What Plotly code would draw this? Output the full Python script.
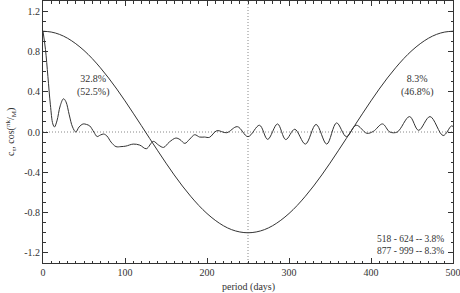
import plotly.graph_objects as go

# smooth curve cos(pi k / M), read every 10 days
cos_period = list(range(0, 501, 10))
cos_values = [1.0, 0.992, 0.969, 0.930, 0.876, 0.809, 0.729, 0.637, 0.536, 0.426,
              0.309, 0.187, 0.063, -0.063, -0.187, -0.309, -0.426, -0.536, -0.637, -0.729,
              -0.809, -0.876, -0.930, -0.969, -0.992, -1.0, -0.992, -0.969, -0.930, -0.876,
              -0.809, -0.729, -0.637, -0.536, -0.426, -0.309, -0.187, -0.063, 0.063, 0.187,
              0.309, 0.426, 0.536, 0.637, 0.729, 0.809, 0.876, 0.930, 0.969, 0.992, 1.0]

# wiggly correlation curve c_tau
c_period = [0, 3, 6, 9, 12, 14, 17, 21, 25, 28, 32, 36, 40, 44, 49, 53, 57, 62, 66, 70,
            74, 78, 83, 89, 95, 101, 110, 118, 126, 134.5, 141, 147, 154, 162, 167, 173, 179, 185,
            191, 197, 203, 212, 224, 237, 250, 264, 274, 286, 296, 307, 320, 333, 346, 358,
            370, 382, 395, 403, 414, 423, 432, 447, 458, 472, 488, 498, 500]
c_values = [1.0, 0.82, 0.55, 0.27, 0.08, 0.05, 0.11, 0.26, 0.33, 0.30, 0.17, 0.05, 0.0, 0.05,
            0.08, 0.075, 0.06, 0.0, -0.045, -0.03, -0.02, -0.04, -0.10, -0.145, -0.145, -0.14,
            -0.12, -0.13, -0.166, -0.093, -0.13, -0.153, -0.10, -0.06, -0.075, -0.113, -0.07, -0.027,
            -0.05, -0.05, -0.053, 0.013, -0.007, 0.053, -0.046, 0.067, -0.073, 0.08, -0.075, 0.027,
            -0.12, 0.075, -0.12, 0.09, -0.046, 0.067, -0.013, 0.007, 0.08, 0.0, 0.0, 0.153,
            0.017, 0.153, -0.035, 0.06, 0.055]

x_ticks = [0, 100, 200, 300, 400, 500]
y_ticks = [-1.2, -0.8, -0.4, 0.0, 0.4, 0.8, 1.2]
y_tick_labels = ["-1.2", "-0.8", "-0.4", "0.0", "0.4", "0.8", "1.2"]

FONT = "Liberation Serif, Times New Roman, serif"
INK = "#333333"

fig = go.Figure()
fig.add_trace(go.Scatter(x=cos_period, y=cos_values, mode="lines",
                         line=dict(color=INK, width=1, shape="spline"), hoverinfo="skip"))
fig.add_trace(go.Scatter(x=c_period, y=c_values, mode="lines",
                         line=dict(color=INK, width=1, shape="spline", smoothing=1.0), hoverinfo="skip"))

fig.add_shape(type="line", xref="x", yref="y", x0=0, x1=500, y0=0, y1=0,
              line=dict(color="#888888", width=1, dash="1px,2px"), layer="below")
fig.add_shape(type="line", xref="x", yref="y", x0=250, x1=250, y0=-1.3, y1=1.3,
              line=dict(color="#888888", width=1, dash="1px,2px"), layer="below")

fig.add_annotation(x=61, y=0.46, xref="x", yref="y", text="32.8%<br>(52.5%)",
                   showarrow=False, font=dict(family=FONT, size=10, color=INK))
fig.add_annotation(x=457, y=0.46, xref="x", yref="y", text="8.3%<br>(46.8%)",
                   showarrow=False, font=dict(family=FONT, size=10, color=INK))
fig.add_annotation(x=492, y=-1.12, xref="x", yref="y", xanchor="right",
                   text="518 - 624 -- 3.8%<br>877 - 999 -- 8.3%", align="left",
                   showarrow=False, font=dict(family=FONT, size=9.5, color=INK))

# axis titles as annotations for exact placement
fig.add_annotation(x=250, y=-1.3, xref="x", yref="y", yanchor="top", yshift=-16,
                   text="period (days)", showarrow=False,
                   font=dict(family=FONT, size=10, color=INK))
fig.add_annotation(x=0, y=0.0, xref="x", yref="y", xanchor="center", xshift=-32,
                   text="c<sub>τ</sub>, cos(<sup>πk</sup>/<sub>M</sub>)", textangle=-90,
                   showarrow=False, font=dict(family=FONT, size=10, color=INK))

axis_common = dict(showgrid=False, zeroline=False, showline=True, linecolor=INK, linewidth=1,
                   mirror="ticks", ticks="inside", ticklen=5, tickcolor=INK, automargin=False,
                   ticklabeloverflow="allow",
                   tickfont=dict(family=FONT, size=10, color=INK))
fig.update_xaxes(range=[0, 500], tickvals=x_ticks,
                 minor=dict(dtick=10, ticks="inside", ticklen=2.5, tickcolor=INK),
                 **axis_common)
fig.update_yaxes(range=[-1.3, 1.3], tickvals=y_ticks, ticktext=y_tick_labels,
                 minor=dict(dtick=0.1, tick0=0, ticks="inside", ticklen=2.5, tickcolor=INK),
                 **axis_common)

fig.update_layout(width=460, height=293, margin=dict(l=43, r=7, t=1, b=30, autoexpand=False),
                  paper_bgcolor="white", plot_bgcolor="white", showlegend=False,
                  hovermode=False)

fig.write_html("out.html", config={"displayModeBar": False, "staticPlot": True})

# remove the browser's default body margin so the figure sits at the window's corner
with open("out.html", encoding="utf-8") as f:
    html = f.read()
html = html.replace("<body>", '<body style="margin:0;padding:0;overflow:hidden">', 1)
with open("out.html", "w", encoding="utf-8") as f:
    f.write(html)
